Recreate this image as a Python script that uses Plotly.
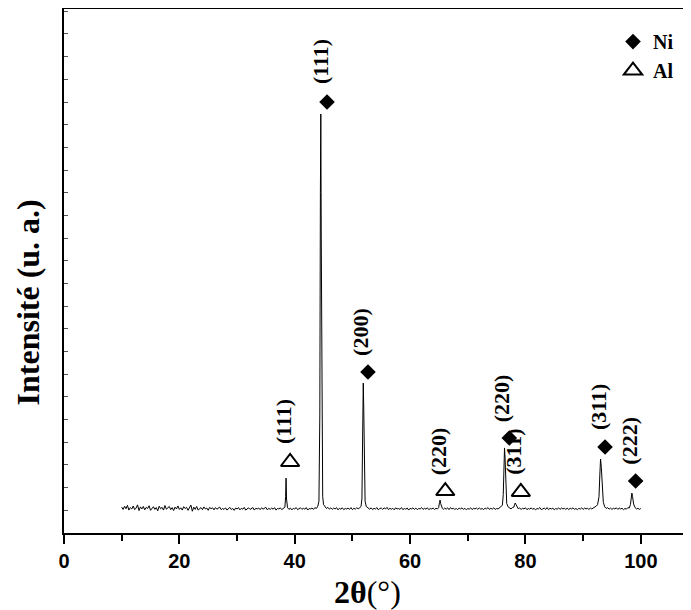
import plotly.graph_objects as go

# Diffractogramme (2theta, intensite)
two_theta = [
    10, 10.25, 10.5, 10.75, 11, 11.25, 11.5, 11.75,
    12, 12.25, 12.5, 12.75, 13, 13.25, 13.5, 13.75,
    14, 14.25, 14.5, 14.75, 15, 15.25, 15.5, 15.75,
    16, 16.25, 16.5, 16.75, 17, 17.25, 17.5, 17.75,
    18, 18.25, 18.5, 18.75, 19, 19.25, 19.5, 19.75,
    20, 20.25, 20.5, 20.75, 21, 21.25, 21.5, 21.75,
    22, 22.25, 22.5, 22.75, 23, 23.25, 23.5, 23.75,
    24, 24.25, 24.5, 24.75, 25, 25.25, 25.5, 25.75,
    26, 26.25, 26.5, 26.75, 27, 27.25, 27.5, 27.75,
    28, 28.25, 28.5, 28.75, 29, 29.25, 29.5, 29.75,
    30, 30.25, 30.5, 30.75, 31, 31.25, 31.5, 31.75,
    32, 32.25, 32.5, 32.75, 33, 33.25, 33.5, 33.75,
    34, 34.25, 34.5, 34.75, 35, 35.25, 35.5, 35.75,
    36, 36.25, 36.5, 36.75, 37, 37.25, 37.5, 37.75,
    38,
    38.3, 38.42, 38.5, 38.58, 38.75,
    39, 39.25, 39.5, 39.75, 40, 40.25, 40.5, 40.75,
    41, 41.25, 41.5, 41.75, 42, 42.25, 42.5, 42.75,
    43, 43.25, 43.5, 43.75, 44,
    44.2, 44.35, 44.45, 44.52, 44.6, 44.7, 44.85, 45.0,
    45.25, 45.5, 45.75, 46, 46.25, 46.5, 46.75,
    47, 47.25, 47.5, 47.75, 48, 48.25, 48.5, 48.75,
    49, 49.25, 49.5, 49.75, 50, 50.25, 50.5, 50.75,
    51, 51.25, 51.5,
    51.65, 51.78, 51.88, 51.96, 52.06, 52.2, 52.4,
    52.75,
    53, 53.25, 53.5, 53.75, 54, 54.25, 54.5, 54.75,
    55, 55.25, 55.5, 55.75, 56, 56.25, 56.5, 56.75,
    57, 57.25, 57.5, 57.75, 58, 58.25, 58.5, 58.75,
    59, 59.25, 59.5, 59.75, 60, 60.25, 60.5, 60.75,
    61, 61.25, 61.5, 61.75, 62, 62.25, 62.5, 62.75,
    63, 63.25, 63.5, 63.75, 64, 64.25, 64.5, 64.75,
    64.95, 65.1, 65.2, 65.3, 65.45, 65.6,
    65.75,
    66, 66.25, 66.5, 66.75, 67, 67.25, 67.5, 67.75,
    68, 68.25, 68.5, 68.75, 69, 69.25, 69.5, 69.75,
    70, 70.25, 70.5, 70.75, 71, 71.25, 71.5, 71.75,
    72, 72.25, 72.5, 72.75, 73, 73.25, 73.5, 73.75,
    74, 74.25, 74.5, 74.75, 75, 75.25, 75.5, 75.75,
    76.0, 76.15, 76.27, 76.37, 76.47, 76.57, 76.75, 77.0,
    77.25, 77.5, 77.75, 78.0,
    78.1, 78.22, 78.35, 78.55, 78.75,
    79, 79.25, 79.5, 79.75, 80, 80.25, 80.5, 80.75,
    81, 81.25, 81.5, 81.75, 82, 82.25, 82.5, 82.75,
    83, 83.25, 83.5, 83.75, 84, 84.25, 84.5, 84.75,
    85, 85.25, 85.5, 85.75, 86, 86.25, 86.5, 86.75,
    87, 87.25, 87.5, 87.75, 88, 88.25, 88.5, 88.75,
    89, 89.25, 89.5, 89.75, 90, 90.25, 90.5, 90.75,
    91, 91.25, 91.5, 91.75, 92, 92.25,
    92.5, 92.75, 92.9, 93.02, 93.15, 93.3, 93.5, 93.75,
    94, 94.25, 94.5, 94.75, 95, 95.25, 95.5, 95.75,
    96, 96.25, 96.5, 96.75, 97, 97.25, 97.5, 97.75,
    98, 98.2,
    98.35, 98.45, 98.57, 98.75, 99.0,
    99.25, 99.5, 99.75, 100,
]
intensity = [
    114, 104, 118, 107, 122, 101, 112, 106,
    119, 103, 110, 124, 99, 115, 106, 117,
    102, 113, 108, 120, 100, 111, 116, 104,
    112, 98, 118, 107, 113, 101, 121, 105,
    110, 117, 103, 112, 99, 114, 106, 119,
    104, 111, 101, 116, 108, 113, 100, 110,
    123, 96, 114, 104, 117, 101, 109, 112,
    103, 115, 106, 110, 100, 113, 107, 111,
    102, 112, 105, 109, 114, 103, 108, 104,
    111, 101, 109, 113, 104, 108, 100, 110,
    106, 112, 102, 109, 105, 113, 101, 108,
    111, 104, 107, 112, 101, 109, 106, 110,
    103, 111, 105, 108, 113, 102, 109, 104,
    110, 105, 112, 101, 108, 106, 111, 103,
    108,
    114, 160, 242, 150, 112,
    104, 110, 102, 109, 106, 112, 103, 108,
    111, 104, 109, 105, 112, 101, 108, 106,
    110, 104, 112, 108, 118,
    140, 520, 1500, 1847, 1300, 420, 160, 125,
    116, 108, 113, 105, 111, 104, 110,
    106, 112, 102, 109, 105, 111, 103, 108,
    106, 110, 104, 112, 103, 109, 105, 111,
    107, 110, 118,
    150, 400, 661, 560, 260, 140, 117,
    110,
    105, 111, 103, 109, 106, 112, 102, 108,
    110, 104, 111, 106, 113, 103, 109, 105,
    109, 102, 111, 106, 108, 104, 112, 103,
    108, 105, 110, 101, 109, 106, 111, 104,
    110, 103, 108, 106, 112, 104, 109, 105,
    111, 103, 108, 106, 110, 104, 109, 106,
    112, 135, 145, 130, 114, 108,
    104,
    110, 105, 111, 103, 112, 106, 109, 104,
    108, 103, 110, 106, 111, 104, 109, 102,
    108, 105, 111, 103, 109, 106, 110, 104,
    111, 105, 108, 103, 110, 106, 112, 104,
    109, 105, 111, 104, 108, 106, 112, 116,
    122, 170, 300, 375, 330, 200, 130, 115,
    110, 106, 112, 114,
    124, 132, 126, 112, 107,
    110, 104, 109, 106, 111, 103, 108, 105,
    111, 104, 109, 102, 108, 106, 112, 103,
    106, 110, 104, 112, 103, 109, 106, 110,
    102, 108, 105, 111, 104, 110, 106, 109,
    104, 110, 103, 109, 106, 111, 104, 108,
    103, 109, 105, 111, 104, 110, 106, 109,
    104, 110, 106, 109, 112, 118,
    125, 160, 260, 326, 290, 190, 135, 115,
    108, 112, 105, 110, 104, 109, 106, 111,
    104, 110, 106, 109, 103, 108, 105, 112,
    110, 125,
    150, 176, 160, 128, 112,
    106, 109, 104, 108,
]

# Reperes des pics : Ni (losanges) et Al (triangles)
ni_x = [45.6, 52.7, 77.2, 93.8, 99.1]
ni_y = [1900, 710, 419, 379, 229]
ni_hkl = ["(111)", "(200)", "(220)", "(311)", "(222)"]
al_x = [39.2, 66.1, 79.2]
al_y = [313, 185, 181]
al_hkl = ["(111)", "(220)", "(311)"]

serif = "Liberation Serif, Times New Roman, serif"

fig = go.Figure()
fig.add_trace(go.Scatter(x=two_theta, y=intensity, mode="lines",
                         line=dict(color="black", width=1), showlegend=False))
fig.add_trace(go.Scatter(x=ni_x, y=ni_y, mode="markers", name="Ni",
                         marker=dict(symbol="diamond", size=12, color="black")))
fig.add_trace(go.Scatter(x=al_x, y=al_y, mode="markers", name="Al",
                         marker=dict(symbol="triangle-up-open", size=16, color="black",
                                     line=dict(width=2, color="black"))))

# Indices (hkl) au-dessus des reperes
for xs, ys, labels in [(ni_x, ni_y, ni_hkl), (al_x, al_y, al_hkl)]:
    for x, y, t in zip(xs, ys, labels):
        fig.add_annotation(x=x, y=y, text="<b>" + t + "</b>", textangle=-90,
                           showarrow=False, xanchor="center", yanchor="middle",
                           xshift=-7, yshift=40,
                           font=dict(family=serif, size=22, color="black"))

fig.add_annotation(x=-0.0574, y=0.44, xref="paper", yref="paper",
                   text="<b>Intensité (u. a.)</b>", textangle=-90, showarrow=False,
                   xanchor="center", yanchor="middle",
                   font=dict(family=serif, size=32, color="black"))
fig.add_annotation(x=52.7, y=-0.1126, xref="x", yref="paper",
                   text="<b>2θ</b>(°)", showarrow=False,
                   xanchor="center", yanchor="middle",
                   font=dict(family=serif, size=32, color="black"))

# la page ajoute 8 px de marge : figure un peu plus petite que la fenetre
fig.update_layout(
    width=683, height=602,
    margin=dict(l=56, r=0, t=1, b=77),
    paper_bgcolor="white", plot_bgcolor="white",
    legend=dict(x=0.8756, y=0.975, xanchor="left", yanchor="top",
                font=dict(family=serif, size=20, color="black", weight="bold"),
                bgcolor="rgba(0,0,0,0)", itemwidth=30, tracegroupgap=0),
)
fig.update_xaxes(range=[0, 108.7], dtick=20, tick0=0, showgrid=False, zeroline=False,
                 showline=True, linewidth=2, linecolor="black", mirror=True,
                 ticks="outside", ticklen=9, tickwidth=2, tickcolor="black",
                 minor=dict(dtick=10, ticks="outside", ticklen=6, tickwidth=2, tickcolor="black"),
                 tickfont=dict(family="Liberation Sans, Arial", size=20, color="black", weight="bold"))
fig.update_yaxes(range=[0, 2310], dtick=100, showgrid=False, zeroline=False,
                 showline=True, linewidth=2, linecolor="black", mirror=False,
                 ticks="inside", ticklen=4, tickwidth=1, tickcolor="#555",
                 showticklabels=False)

fig.write_html("out.html")
